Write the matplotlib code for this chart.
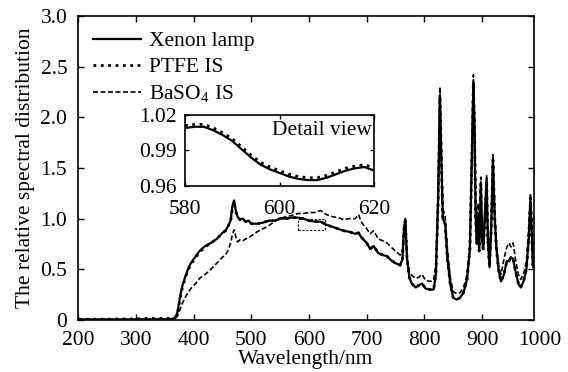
import numpy as np
import matplotlib
matplotlib.use("Agg")
import matplotlib.pyplot as plt
import matplotlib.transforms as mtransforms

plt.rcParams['font.family'] = ['Liberation Serif', 'DejaVu Serif']
plt.rcParams['mathtext.fontset'] = 'custom'
plt.rcParams['mathtext.rm'] = 'Liberation Serif'
plt.rcParams['font.size'] = 15.5

# wavelength grid (nm) and the three spectra
wl = [200, 300, 320, 360, 368, 372, 376, 380, 385, 390, 395, 400, 405, 410, 420, 430,
      440, 450, 455, 460, 464, 467, 470, 473, 476, 480, 485, 490, 495, 500, 510, 520,
      530, 540, 550, 560, 570, 580, 590, 600, 610, 620, 630, 640, 650, 660, 670, 680,
      686, 690, 700, 706, 712, 720, 728, 735, 742, 750, 758, 762, 765, 767, 770, 774,
      778, 785, 790, 796, 802, 810, 816, 820, 824, 827, 829, 832, 836, 840, 845, 850,
      856, 862, 868, 874, 879, 882, 885, 887, 889, 891, 893, 895, 898, 900, 902, 905,
      908, 910, 913, 916, 919, 922, 925, 929, 933, 938, 943, 947, 950, 954, 958, 963,
      967, 972, 977, 981, 984, 986, 988, 990]
xenon = [0.005, 0.005, 0.005, 0.008, 0.02, 0.08, 0.22, 0.33, 0.42, 0.50, 0.56, 0.60, 0.64, 0.68, 0.73, 0.76,
         0.80, 0.86, 0.88, 0.93, 0.98, 1.12, 1.18, 1.08, 1.02, 0.99, 1.00, 0.97, 0.98, 0.95, 0.95, 0.96,
         0.98, 0.98, 1.00, 1.00, 1.01, 1.01, 1.00, 0.98, 0.97, 0.97, 0.94, 0.92, 0.90, 0.88, 0.87, 0.85,
         0.86, 0.82, 0.76, 0.70, 0.73, 0.66, 0.64, 0.63, 0.59, 0.56, 0.54, 0.60, 0.92, 0.98, 0.60, 0.42,
         0.36, 0.32, 0.34, 0.36, 0.31, 0.30, 0.30, 0.45, 1.20, 2.22, 1.70, 1.00, 0.95, 0.60, 0.35, 0.22,
         0.20, 0.22, 0.27, 0.40, 0.70, 1.50, 2.32, 1.90, 1.00, 0.75, 1.05, 0.68, 1.35, 0.80, 0.70, 1.00,
         1.38, 0.80, 0.52, 0.90, 1.58, 1.00, 0.70, 0.48, 0.38, 0.45, 0.58, 0.58, 0.62, 0.60, 0.48, 0.36,
         0.32, 0.38, 0.50, 0.80, 1.20, 0.90, 0.55, 0.50]
ptfe = [0.005, 0.01, 0.015, 0.015, 0.025, 0.07, 0.20, 0.31, 0.41, 0.49, 0.55, 0.59, 0.63, 0.67, 0.72, 0.76,
        0.80, 0.86, 0.88, 0.93, 0.97, 1.10, 1.17, 1.07, 1.02, 0.99, 1.00, 0.97, 0.98, 0.95, 0.95, 0.96,
        0.98, 0.98, 1.00, 1.00, 1.01, 1.01, 1.00, 0.98, 0.97, 0.97, 0.94, 0.92, 0.90, 0.88, 0.87, 0.85,
        0.86, 0.82, 0.76, 0.70, 0.73, 0.66, 0.64, 0.63, 0.59, 0.56, 0.54, 0.60, 0.92, 0.98, 0.60, 0.42,
        0.36, 0.32, 0.34, 0.36, 0.31, 0.30, 0.30, 0.45, 1.20, 2.20, 1.70, 1.00, 0.95, 0.60, 0.35, 0.22,
        0.20, 0.22, 0.27, 0.40, 0.70, 1.50, 2.35, 1.90, 1.00, 0.75, 1.05, 0.68, 1.35, 0.80, 0.70, 1.00,
        1.38, 0.80, 0.52, 0.90, 1.58, 1.00, 0.70, 0.48, 0.38, 0.45, 0.58, 0.58, 0.62, 0.60, 0.48, 0.36,
        0.32, 0.38, 0.50, 0.80, 1.20, 0.90, 0.55, 0.50]
baso4 = [0.005, 0.005, 0.008, 0.01, 0.015, 0.04, 0.10, 0.16, 0.22, 0.27, 0.31, 0.34, 0.37, 0.41, 0.45, 0.50,
         0.56, 0.62, 0.64, 0.69, 0.76, 0.84, 0.89, 0.82, 0.77, 0.79, 0.78, 0.80, 0.81, 0.83, 0.87, 0.90,
         0.93, 0.97, 1.00, 1.02, 1.03, 1.05, 1.05, 1.06, 1.06, 1.08, 1.04, 1.02, 1.01, 0.99, 1.00, 1.00,
         1.04, 0.97, 0.90, 0.85, 0.88, 0.80, 0.78, 0.76, 0.72, 0.68, 0.64, 0.68, 0.96, 1.00, 0.62, 0.48,
         0.44, 0.41, 0.42, 0.45, 0.39, 0.38, 0.39, 0.55, 1.30, 2.30, 1.80, 1.10, 1.02, 0.70, 0.42, 0.28,
         0.26, 0.27, 0.32, 0.45, 0.75, 1.55, 2.42, 2.00, 1.10, 0.85, 1.15, 0.78, 1.41, 0.90, 0.80, 1.10,
         1.43, 0.90, 0.62, 1.00, 1.63, 1.10, 0.75, 0.52, 0.45, 0.60, 0.72, 0.76, 0.72, 0.76, 0.60, 0.45,
         0.40, 0.45, 0.58, 0.90, 1.25, 1.00, 0.65, 0.60]

# detail view data
detail_wl = [580, 582, 584, 586, 588, 590, 592, 594, 596, 598, 600, 602, 604, 606, 608, 610,
             612, 614, 616, 618, 620]
detail_xenon = [1.009, 1.010, 1.010, 1.007, 1.003, 0.998, 0.991, 0.984, 0.978, 0.974, 0.971, 0.968,
                0.966, 0.965, 0.965, 0.967, 0.970, 0.973, 0.975, 0.976, 0.973]
detail_ptfe = [1.011, 1.012, 1.012, 1.009, 1.005, 1.000, 0.993, 0.986, 0.980, 0.976, 0.973, 0.970,
               0.968, 0.967, 0.967, 0.969, 0.972, 0.975, 0.977, 0.978, 0.975]

xticks = [200, 300, 400, 500, 600, 700, 800, 900]
yticks = [0, 0.5, 1.0, 1.5, 2.0, 2.5, 3.0]
yticklabels = ['0', '0.5', '1.0', '1.5', '2.0', '2.5', '3.0']

fig = plt.figure(figsize=(5.68, 3.72), dpi=100)
ax = fig.add_axes([0.138, 0.14, 0.802, 0.817])

ax.plot(wl, xenon, 'k-', lw=1.6, label='Xenon lamp')
ax.plot(wl, ptfe, 'k:', lw=2.0, label='PTFE IS')
ax.plot(wl, baso4, 'k--', lw=1.2, dashes=(3, 1.5), label='BaSO$_\\mathrm{4}$ IS')
# dashed box marking the detail region
ax.plot([580, 627, 627, 580, 580], [0.89, 0.89, 1.0, 1.0, 0.89], 'k--', lw=0.8, dashes=(2, 1.5))

ax.set_xlim(200, 990)
ax.set_ylim(0, 3.0)
ax.set_xticks(xticks)
ax.set_yticks(yticks)
ax.set_yticklabels(yticklabels)
ax.tick_params(direction='in', top=True, right=True, length=4, width=1, pad=8)
ax.tick_params(axis='y', pad=8)
for s in ax.spines.values():
    s.set_linewidth(1.2)
# last tick label sits beyond the axis end
off = mtransforms.ScaledTranslation(0, -8 / 72, fig.dpi_scale_trans)
ax.text(1000, 0, '1000', transform=ax.get_xaxis_transform() + off, ha='center', va='top')

ax.set_xlabel('Wavelength/nm', labelpad=0)
ax.set_ylabel('The relative spectral distribution', labelpad=4)

leg = ax.legend(loc='upper left', bbox_to_anchor=(0.0, 1.0), frameon=False,
                handlelength=2.2, handletextpad=0.4, labelspacing=0.28, borderaxespad=0.3)

ins = fig.add_axes([0.3257, 0.5, 0.3328, 0.191])
ins.plot(detail_wl, detail_xenon, 'k-', lw=1.6)
ins.plot(detail_wl, detail_ptfe, 'k:', lw=2.0)
ins.set_xlim(580, 620)
ins.set_ylim(0.96, 1.02)
ins.set_xticks([580, 600, 620])
ins.set_yticks([0.96, 0.99, 1.02])
ins.set_yticklabels(['0.96', '0.99', '1.02'])
ins.tick_params(direction='in', top=True, right=True, length=3, width=1, pad=10)
ins.tick_params(axis='y', pad=6)
for s in ins.spines.values():
    s.set_linewidth(1.2)
ins.text(0.99, 0.78, 'Detail view', transform=ins.transAxes, ha='right', va='center')

fig.savefig('out.png', dpi=100)
